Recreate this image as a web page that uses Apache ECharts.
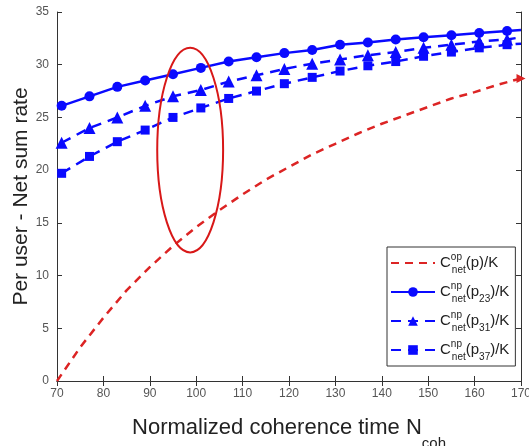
<!DOCTYPE html>
<html>
<head>
<meta charset="utf-8">
<script src="https://cdn.jsdelivr.net/npm/echarts@6/dist/echarts.min.js"></script>
<style>
html, body { margin: 0; padding: 0; background: #fff; }
#main { width: 529px; height: 446px; }
</style>
</head>
<body>
<div id="main"></div>
<script>
// values
var xOp = [70, 75, 80, 85, 90, 95, 100, 105, 110, 115, 120, 125, 130, 135, 140, 145, 150, 155, 160, 165, 170];
var rateOp = [0, 3.2, 6.0, 8.6, 10.8, 12.8, 14.6, 16.2, 17.7, 19.1, 20.3, 21.5, 22.5, 23.5, 24.4, 25.2, 26.0, 26.8, 27.4, 28.1, 28.7];

var xNp = [71, 77, 83, 89, 95, 101, 107, 113, 119, 125, 131, 137, 143, 149, 155, 161, 167, 170];
var rateP23 = [26.1, 27.0, 27.9, 28.5, 29.1, 29.7, 30.3, 30.7, 31.1, 31.4, 31.9, 32.1, 32.4, 32.6, 32.8, 33.0, 33.2, 33.3];
var rateP31 = [22.6, 24.0, 25.0, 26.1, 27.0, 27.6, 28.4, 29.0, 29.6, 30.1, 30.5, 30.9, 31.2, 31.6, 31.9, 32.2, 32.4, 32.6];
var rateP37 = [19.7, 21.3, 22.7, 23.8, 25.0, 25.9, 26.8, 27.5, 28.2, 28.8, 29.4, 29.9, 30.3, 30.8, 31.2, 31.6, 31.9, 32.0];

// highlight ellipse, in data units
var ellipse = { cx: 98.7, cy: 21.9, rx: 7.1, ry: 9.7 };

var legendText = {
    op:  '{c|C}{sup|op}{sub|net}{t|(p)/K}',
    p23: '{c|C}{sup|np}{sub|net}{t|(p}{sub2|23}{t|)/K}',
    p31: '{c|C}{sup|np}{sub|net}{t|(p}{sub2|31}{t|)/K}',
    p37: '{c|C}{sup|np}{sub|net}{t|(p}{sub2|37}{t|)/K}'
};

function pairs(xs, ys) {
    return xs.map(function (x, i) { return [x, ys[i]]; });
}
// last point carries the line to the axis edge, without a marker
function lastPlain(data) {
    var last = data.length - 1;
    data[last] = { value: data[last], symbol: 'none' };
    return data;
}

var opData = pairs(xOp, rateOp);
var opEnd = [opData[opData.length - 1]];

var myChart = echarts.init(document.getElementById('main'));

var blue = '#0a0aff';
var red = '#dc2424';
var axisCol = '#333';
var font = 'Liberation Sans, Arial, sans-serif';

function mirrorAxis(pos, min, max, step) {
    return {
        type: 'value', position: pos, min: min, max: max, interval: step,
        axisLine: { show: true, lineStyle: { color: axisCol, width: 1 } },
        axisTick: { inside: true, length: 5, lineStyle: { color: axisCol } },
        axisLabel: { show: false },
        splitLine: { show: false }
    };
}

var option = {
    animation: false,
    backgroundColor: '#fff',
    textStyle: { fontFamily: font },
    grid: { left: 57, right: 8, top: 12, bottom: 65, containLabel: false, outerBoundsMode: 'none' },
    xAxis: [{
        type: 'value', min: 70, max: 170, interval: 10,
        name: '{n|Normalized coherence time N}{s|coh}',
        nameLocation: 'middle', nameGap: 36,
        nameTextStyle: {
            rich: {
                n: { fontSize: 22, color: '#222', fontFamily: font, lineHeight: 34, verticalAlign: 'top' },
                s: { fontSize: 15, color: '#222', fontFamily: font, verticalAlign: 'bottom', lineHeight: 34, padding: [12, 0, 0, 0] }
            }
        },
        axisLine: { show: true, lineStyle: { color: axisCol, width: 1 } },
        axisTick: { inside: true, length: 5, lineStyle: { color: axisCol } },
        axisLabel: { color: '#555', fontSize: 12, margin: 7 },
        splitLine: { show: false }
    }, mirrorAxis('top', 70, 170, 10)],
    yAxis: [{
        type: 'value', min: 0, max: 35, interval: 5,
        name: 'Per user - Net sum rate',
        nameLocation: 'middle', nameGap: 25, nameMoveOverlap: false,
        nameTextStyle: { fontSize: 21, color: '#222', fontFamily: font },
        axisLine: { show: true, lineStyle: { color: axisCol, width: 1 } },
        axisTick: { inside: true, length: 5, lineStyle: { color: axisCol } },
        axisLabel: { color: '#555', fontSize: 12, margin: 8 },
        splitLine: { show: false }
    }, mirrorAxis('right', 0, 35, 5)],
    legend: {
        orient: 'vertical',
        left: 387, top: 247,
        // the dashed red curve has no marker in the legend
        data: [{ name: 'op', itemStyle: { opacity: 0 } }, 'p23', 'p31', 'p37'],
        itemWidth: 44, itemHeight: 12, itemGap: 5,
        padding: [4, 6, 4, 3],
        backgroundColor: '#fff',
        borderColor: '#333', borderWidth: 1, borderRadius: 0,
        formatter: function (name) { return legendText[name]; },
        textStyle: {
            color: '#222',
            rich: {
                c: { fontSize: 15, lineHeight: 24, verticalAlign: 'middle', color: '#222' },
                sup: { fontSize: 10, width: 1, verticalAlign: 'top', lineHeight: 24, color: '#222', padding: [1, 0, 0, 0] },
                sub: { fontSize: 10, verticalAlign: 'bottom', lineHeight: 24, color: '#222' },
                t: { fontSize: 15, lineHeight: 24, verticalAlign: 'middle', color: '#222' },
                sub2: { fontSize: 10, verticalAlign: 'bottom', lineHeight: 20, color: '#222' }
            }
        }
    },
    series: [{
        name: 'op', type: 'line',
        data: opData,
        symbol: 'none',
        itemStyle: { color: red },
        lineStyle: { color: red, width: 2.5, type: [8, 6] },
        z: 3
    }, {
        name: 'opEnd', type: 'line',
        data: opEnd,
        symbol: 'triangle', symbolRotate: -90, symbolSize: 9,
        itemStyle: { color: red },
        z: 3
    }, {
        name: 'p23', type: 'line',
        data: lastPlain(pairs(xNp, rateP23)),
        symbol: 'circle', symbolSize: 10,
        itemStyle: { color: blue },
        lineStyle: { color: blue, width: 2.5 },
        z: 4
    }, {
        name: 'p31', type: 'line',
        data: lastPlain(pairs(xNp, rateP31)),
        symbol: 'triangle', symbolSize: 12,
        itemStyle: { color: blue },
        lineStyle: { color: blue, width: 2.5, type: [10, 7] },
        z: 4
    }, {
        name: 'p37', type: 'line',
        data: lastPlain(pairs(xNp, rateP37)),
        symbol: 'rect', symbolSize: 9,
        itemStyle: { color: blue },
        lineStyle: { color: blue, width: 2.5, type: [10, 7] },
        z: 4
    }]
};

myChart.setOption(option);

// red ellipse placed through the grid's own scale
var c = myChart.convertToPixel({ gridIndex: 0 }, [ellipse.cx, ellipse.cy]);
var e = myChart.convertToPixel({ gridIndex: 0 }, [ellipse.cx + ellipse.rx, ellipse.cy + ellipse.ry]);
myChart.setOption({
    graphic: [{
        type: 'ellipse',
        shape: { cx: c[0], cy: c[1], rx: e[0] - c[0], ry: c[1] - e[1] },
        style: { fill: 'none', stroke: '#d81818', lineWidth: 2 },
        z: 10
    }]
});
</script>
</body>
</html>
